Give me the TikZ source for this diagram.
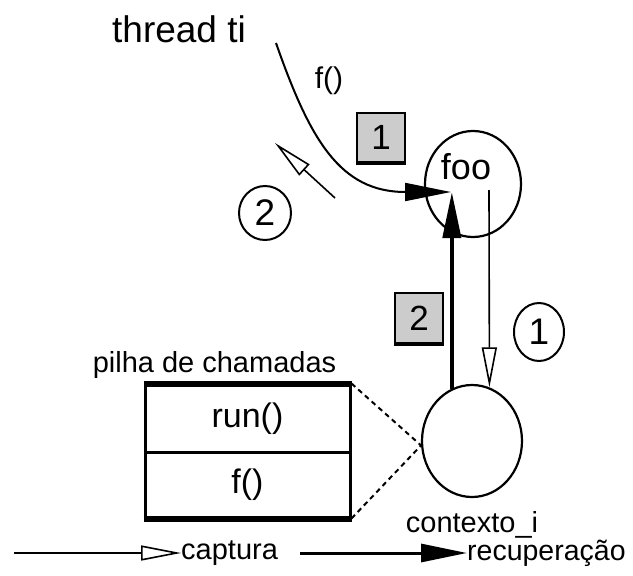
\documentclass[tikz,border=0pt]{standalone}
\usepackage{fontspec}
\setmainfont{Liberation Sans}
\usetikzlibrary{shapes.geometric, arrows.meta}
\tikzstyle{ctx} = [ellipse, draw=black, line width=2.2pt, inner sep=0pt]
\tikzstyle{stepnum} = [rectangle, draw=black, line width=2pt, fill=gray!40, minimum width=48pt, minimum height=49pt, font=\fontsize{35}{37}\selectfont]
\tikzstyle{ordnum} = [ellipse, draw=black, line width=2pt, inner sep=0pt, font=\fontsize{37}{39}\selectfont]
\tikzstyle{frame} = [rectangle, draw=black, line width=3pt, minimum width=205pt, font=\fontsize{34}{36}\selectfont]
\tikzstyle{lbl} = [inner sep=0pt, font=\fontsize{29}{31}\selectfont]
\tikzstyle{capture} = [line width=1.6pt, -{Triangle[open, length=40pt, width=15pt]}]
\tikzstyle{recover} = [line width=3pt, -{Triangle[length=46pt, width=18pt]}]

\begin{document}
\begin{tikzpicture}[x=1pt, y=-1pt]
      \useasboundingbox (0,0) rectangle (633,576);
      \node (thread) [lbl, font=\fontsize{37}{40}\selectfont] at (179,29) {thread ti};
      \node (fcall) [lbl, font=\fontsize{30}{32}\selectfont] at (329,81) {f()};
      \node (step1) [stepnum] at (381,137) {1};
      \node (step2) [stepnum, minimum height=50pt] at (419,318) {2};
      \node (ord2) [ordnum, minimum width=52pt, minimum height=54pt] at (265,213) {2};
      \node (ord1) [ordnum, minimum width=50pt, minimum height=58pt] at (539,332) {1};
      \node (foo) [ctx, minimum width=96pt, minimum height=106pt, label={[lbl, font=\fontsize{36}{38}\selectfont, xshift=-7pt, yshift=17pt]center:foo}] at (473,184) {};
      \node (ctxi) [ctx, minimum width=100pt, minimum height=112pt, label={[lbl, label distance=13pt]below:contexto\_i}] at (472,441) {};
      \node (pilha) [lbl, anchor=base] at (214.5,372) {pilha de chamadas};
      \node (run) [frame, minimum height=67pt] at (247.5,418.5) {run()};
      \node (fstk) [frame, minimum height=65pt] at (247.5,484.5) {f()};
      \node (cap) [lbl, font=\fontsize{29}{31}\selectfont, anchor=west] at (181,553) {captura};
      \node (rec) [lbl, font=\fontsize{28.5}{31}\selectfont, anchor=west] at (467,553) {recuperação};

      \coordinate (tstart) at (276,43);
      \coordinate (hit) at (451,192);
      \coordinate (fout) at (489,190);
      \coordinate (back) at (335,198);
      \coordinate (backtip) at (275,143);
      \coordinate (leg1) at (14,553);
      \coordinate (leg2) at (300,553);

      \draw[line width=4pt] (step1.south west) -- (step1.south east);
      \draw[line width=4pt] (step2.south west) -- (step2.south east);
      \draw[line width=5pt] (run.north west) -- (run.north east);
      \draw[line width=6pt] (fstk.south west) -- (fstk.south east);

      \draw[recover, line width=2pt] (tstart) .. controls (310,140) and (340,192) .. (hit);
      \draw[recover, line width=4pt] (ctxi.111) -- (ctxi.111 |- hit);
      \draw[capture] (fout) -- (ctxi.72);
      \draw[capture] (back) -- (backtip);
      \draw[dashed, dash pattern=on 5pt off 4pt, line width=2pt] (run.north east) -- (ctxi.185);
      \draw[dashed, dash pattern=on 5pt off 4pt, line width=2pt] (fstk.south east) -- (ctxi.185);

      \draw[capture] (leg1) -- (cap.west);
      \draw[recover] (leg2) -- (rec.west);
    \end{tikzpicture}
\end{document}
